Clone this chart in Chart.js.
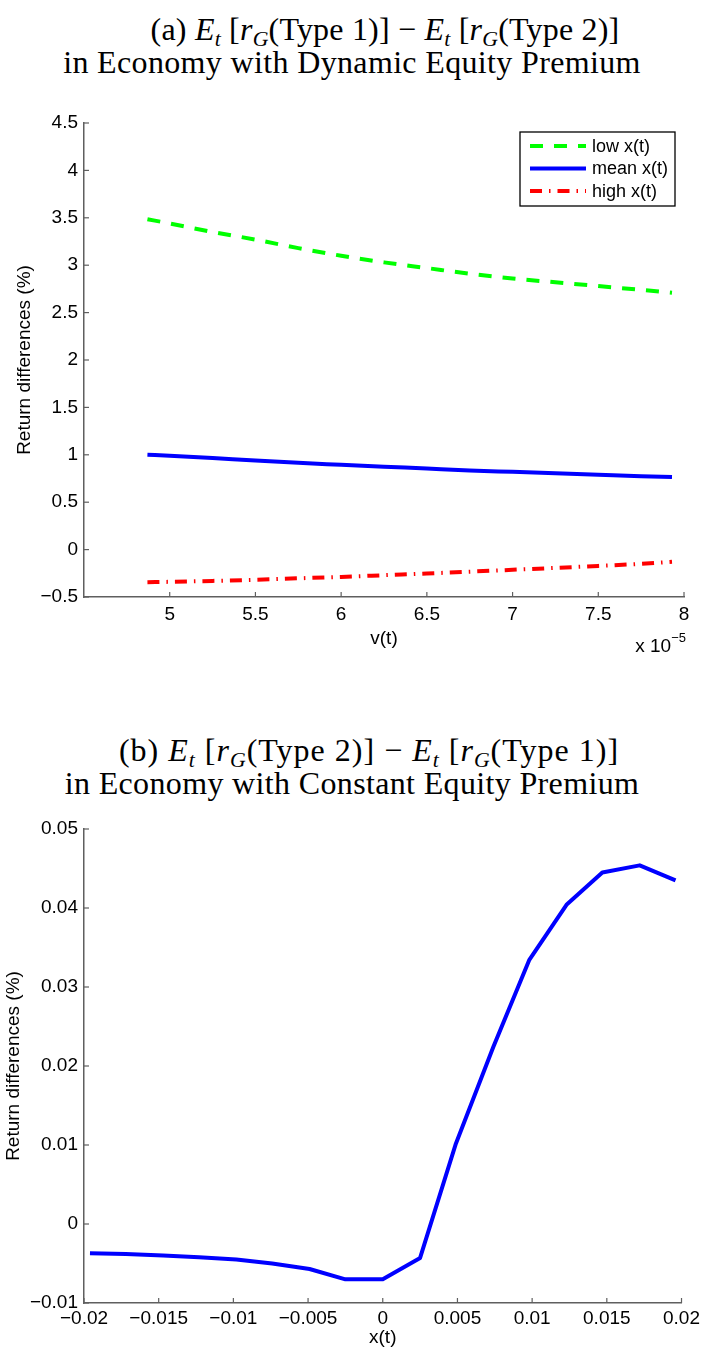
<!DOCTYPE html>
<html>
<head>
<meta charset="utf-8">
<script src="https://cdn.jsdelivr.net/npm/chart.js@4.4.1/dist/chart.umd.min.js"></script>
<style>
  body { margin: 0; background: #fff; }
  #page { position: relative; width: 704px; height: 1352px; overflow: hidden; background: #fff; }
  .heading {
    position: absolute; left: 0; width: 704px; text-align: center;
    font-family: "Liberation Serif", "DejaVu Serif", serif; font-size: 32px; line-height: 33px; color: #000;
  }
  .heading div { white-space: nowrap; }
  .heading sub { font-size: 0.68em; vertical-align: -0.28em; line-height: 0; }
  .heading .wide { letter-spacing: 0.35px; }
</style>
</head>
<body>
<div id="page">
  <div class="heading" style="top: 13px;">
    <div style="padding-left: 66px; letter-spacing: 0.2px;">(a) <i>E</i><sub><i>t</i></sub> [<i>r</i><sub><i>G</i></sub>(Type 1)] &minus; <i>E</i><sub><i>t</i></sub> [<i>r</i><sub><i>G</i></sub>(Type 2)]</div>
    <div class="wide">in Economy with Dynamic Equity Premium</div>
  </div>
  <canvas id="chartDynamic" width="704" height="580" style="position: absolute; left: 0; top: 100px;"></canvas>

  <div class="heading" style="top: 734px;">
    <div style="padding-left: 34px; letter-spacing: 1px;">(b) <i>E</i><sub><i>t</i></sub> [<i>r</i><sub><i>G</i></sub>(Type 2)] &minus; <i>E</i><sub><i>t</i></sub> [<i>r</i><sub><i>G</i></sub>(Type 1)]</div>
    <div class="wide">in Economy with Constant Equity Premium</div>
  </div>
  <canvas id="chartConstant" width="704" height="552" style="position: absolute; left: 0; top: 800px;"></canvas>
</div>

<script>
'use strict';

// (a) v(t) grid, in units of 1e-5
const vGrid = [4.87, 5.0, 5.25, 5.5, 5.75, 6.0, 6.25, 6.5, 6.75, 7.0, 7.25, 7.5, 7.75, 7.93];
const lowX  = [3.485, 3.44, 3.35, 3.27, 3.18, 3.10, 3.03, 2.97, 2.91, 2.86, 2.82, 2.78, 2.74, 2.71];
const meanX = [1.0, 0.99, 0.965, 0.94, 0.915, 0.895, 0.875, 0.855, 0.835, 0.82, 0.805, 0.79, 0.775, 0.765];
const highX = [-0.344, -0.34, -0.33, -0.318, -0.303, -0.288, -0.27, -0.252, -0.233, -0.213, -0.193, -0.172, -0.15, -0.128];

// (b) x(t) grid
const xGrid = [-0.0196, -0.0172, -0.0147, -0.0123, -0.0098, -0.0074, -0.0049, -0.0025, 0,
               0.0025, 0.0049, 0.0074, 0.0098, 0.0123, 0.0147, 0.0172, 0.0196];
const constDiff = [-0.0037, -0.0038, -0.0040, -0.0042, -0.0045, -0.0050, -0.0057, -0.0070, -0.0070,
                   -0.0043, 0.0102, 0.0224, 0.0334, 0.0404, 0.0445, 0.0454, 0.0435];

// tick positions
const vTicks = [5, 5.5, 6, 6.5, 7, 7.5, 8];
const dynYTicks = [-0.5, 0, 0.5, 1, 1.5, 2, 2.5, 3, 3.5, 4, 4.5];
const xTicks = [-0.02, -0.015, -0.01, -0.005, 0, 0.005, 0.01, 0.015, 0.02];
const constYTicks = [-0.01, 0, 0.01, 0.02, 0.03, 0.04, 0.05];

const FONT = '"Liberation Sans", Arial, sans-serif';
const FONT_SIZE = 19;
const AXIS_GREY = '#5f5f5f';
const TICK_LEN = 5;

const fmt = (v) => String(v).replace('-', '\u2212');
const toPoints = (xs, ys) => xs.map((x, i) => ({ x, y: ys[i] }));

// MATLAB style ticks pointing into the plot
const inwardTicks = {
  id: 'inwardTicks',
  afterDraw(chart) {
    const { ctx, chartArea, scales } = chart;
    ctx.save();
    ctx.strokeStyle = AXIS_GREY;
    ctx.lineWidth = 1.2;
    scales.x.ticks.forEach((t) => {
      const px = scales.x.getPixelForValue(t.value);
      ctx.beginPath();
      ctx.moveTo(px, chartArea.bottom);
      ctx.lineTo(px, chartArea.bottom - TICK_LEN);
      ctx.stroke();
    });
    scales.y.ticks.forEach((t) => {
      const py = scales.y.getPixelForValue(t.value);
      ctx.beginPath();
      ctx.moveTo(chartArea.left, py);
      ctx.lineTo(chartArea.left + TICK_LEN, py);
      ctx.stroke();
    });
    ctx.restore();
  },
};

// boxed legend in the upper right corner, line samples keep the dataset dash
const boxLegend = {
  id: 'boxLegend',
  afterDraw(chart) {
    const { ctx, chartArea } = chart;
    const sets = chart.data.datasets;
    const w = 155, rowH = 22.5, h = 74;
    const left = chartArea.right - 9 - w;
    const top = chartArea.top + 9;
    ctx.save();
    ctx.fillStyle = '#fff';
    ctx.fillRect(left, top, w, h);
    ctx.strokeStyle = '#000';
    ctx.lineWidth = 1.3;
    ctx.strokeRect(left, top, w, h);
    ctx.font = '18px ' + FONT;
    ctx.textBaseline = 'middle';
    ctx.textAlign = 'left';
    sets.forEach((ds, i) => {
      const y = top + 14 + i * rowH;
      ctx.beginPath();
      ctx.strokeStyle = ds.borderColor;
      ctx.lineWidth = ds.borderWidth;
      ctx.setLineDash(ds.borderDash || []);
      ctx.moveTo(left + 10, y);
      ctx.lineTo(left + 66, y);
      ctx.stroke();
      ctx.setLineDash([]);
      ctx.fillStyle = '#000';
      ctx.fillText(ds.label, left + 72, y + 1);
    });
    ctx.restore();
  },
};

// axis multiplier under the right end of the v(t) axis
const exponentNote = {
  id: 'exponentNote',
  afterDraw(chart) {
    const { ctx, chartArea } = chart;
    const right = chartArea.right + 2;
    const base = chartArea.bottom + 55;
    ctx.save();
    ctx.fillStyle = '#000';
    ctx.textAlign = 'right';
    ctx.textBaseline = 'alphabetic';
    ctx.font = '13px ' + FONT;
    const sup = '\u22125';
    const supW = ctx.measureText(sup).width;
    ctx.fillText(sup, right, base - 10);
    ctx.font = FONT_SIZE + 'px ' + FONT;
    ctx.fillText('x 10', right - supW, base);
    ctx.restore();
  },
};

const axis = (cfg) => ({
  type: 'linear',
  min: cfg.min,
  max: cfg.max,
  grid: { display: false, drawTicks: false },
  border: { display: true, color: AXIS_GREY, width: 1.5 },
  afterBuildTicks: (scale) => { scale.ticks = cfg.ticks.map((value) => ({ value })); },
  afterFit: cfg.fit,
  ticks: {
    autoSkip: false,
    maxRotation: 0,
    padding: cfg.tickPad,
    color: '#000',
    font: { family: FONT, size: FONT_SIZE },
    callback: (value) => fmt(value),
  },
  title: {
    display: true,
    text: cfg.title,
    color: '#000',
    font: { family: FONT, size: FONT_SIZE },
    padding: cfg.titlePad,
  },
});

const baseOptions = (scales, padTop) => ({
  responsive: false,
  animation: false,
  events: [],
  layout: { padding: { top: padTop, right: 20, left: 0, bottom: 0 } },
  elements: { point: { radius: 0 } },
  plugins: { legend: { display: false }, tooltip: { enabled: false } },
  scales,
});

new Chart(document.getElementById('chartDynamic'), {
  type: 'line',
  data: {
    datasets: [
      {
        label: 'low x(t)',
        data: toPoints(vGrid, lowX),
        borderColor: '#00ff00',
        borderWidth: 4,
        borderDash: [13, 11],
        cubicInterpolationMode: 'monotone',
      },
      {
        label: 'mean x(t)',
        data: toPoints(vGrid, meanX),
        borderColor: '#0000ff',
        borderWidth: 4,
        cubicInterpolationMode: 'monotone',
      },
      {
        label: 'high x(t)',
        data: toPoints(vGrid, highX),
        borderColor: '#ff0000',
        borderWidth: 4,
        borderDash: [12, 7, 1.5, 7],
        cubicInterpolationMode: 'monotone',
      },
    ],
  },
  options: baseOptions({
    x: axis({
      min: 4.5, max: 8, ticks: vTicks, title: 'v(t)', tickPad: 6,
      titlePad: { top: 0, bottom: 30 },
      fit: (s) => { s.height = 83; },
    }),
    y: axis({
      min: -0.5, max: 4.5, ticks: dynYTicks, title: 'Return differences (%)', tickPad: 6,
      titlePad: { top: 13, bottom: 0 },
      fit: (s) => { s.width = 84; },
    }),
  }, 23),
  plugins: [inwardTicks, boxLegend, exponentNote],
});

new Chart(document.getElementById('chartConstant'), {
  type: 'line',
  data: {
    datasets: [
      {
        label: 'x(t)',
        data: toPoints(xGrid, constDiff),
        borderColor: '#0000ff',
        borderWidth: 4,
        borderJoinStyle: 'round',
        tension: 0,
      },
    ],
  },
  options: baseOptions({
    x: axis({
      min: -0.02, max: 0.02, ticks: xTicks, title: 'x(t)', tickPad: 4,
      titlePad: { top: 0, bottom: 3 },
      fit: (s) => { s.height = 49; },
    }),
    y: axis({
      min: -0.01, max: 0.05, ticks: constYTicks, title: 'Return differences (%)', tickPad: 6,
      titlePad: { top: 2, bottom: 0 },
      fit: (s) => { s.width = 84; },
    }),
  }, 29),
  plugins: [inwardTicks],
});
</script>
</body>
</html>
